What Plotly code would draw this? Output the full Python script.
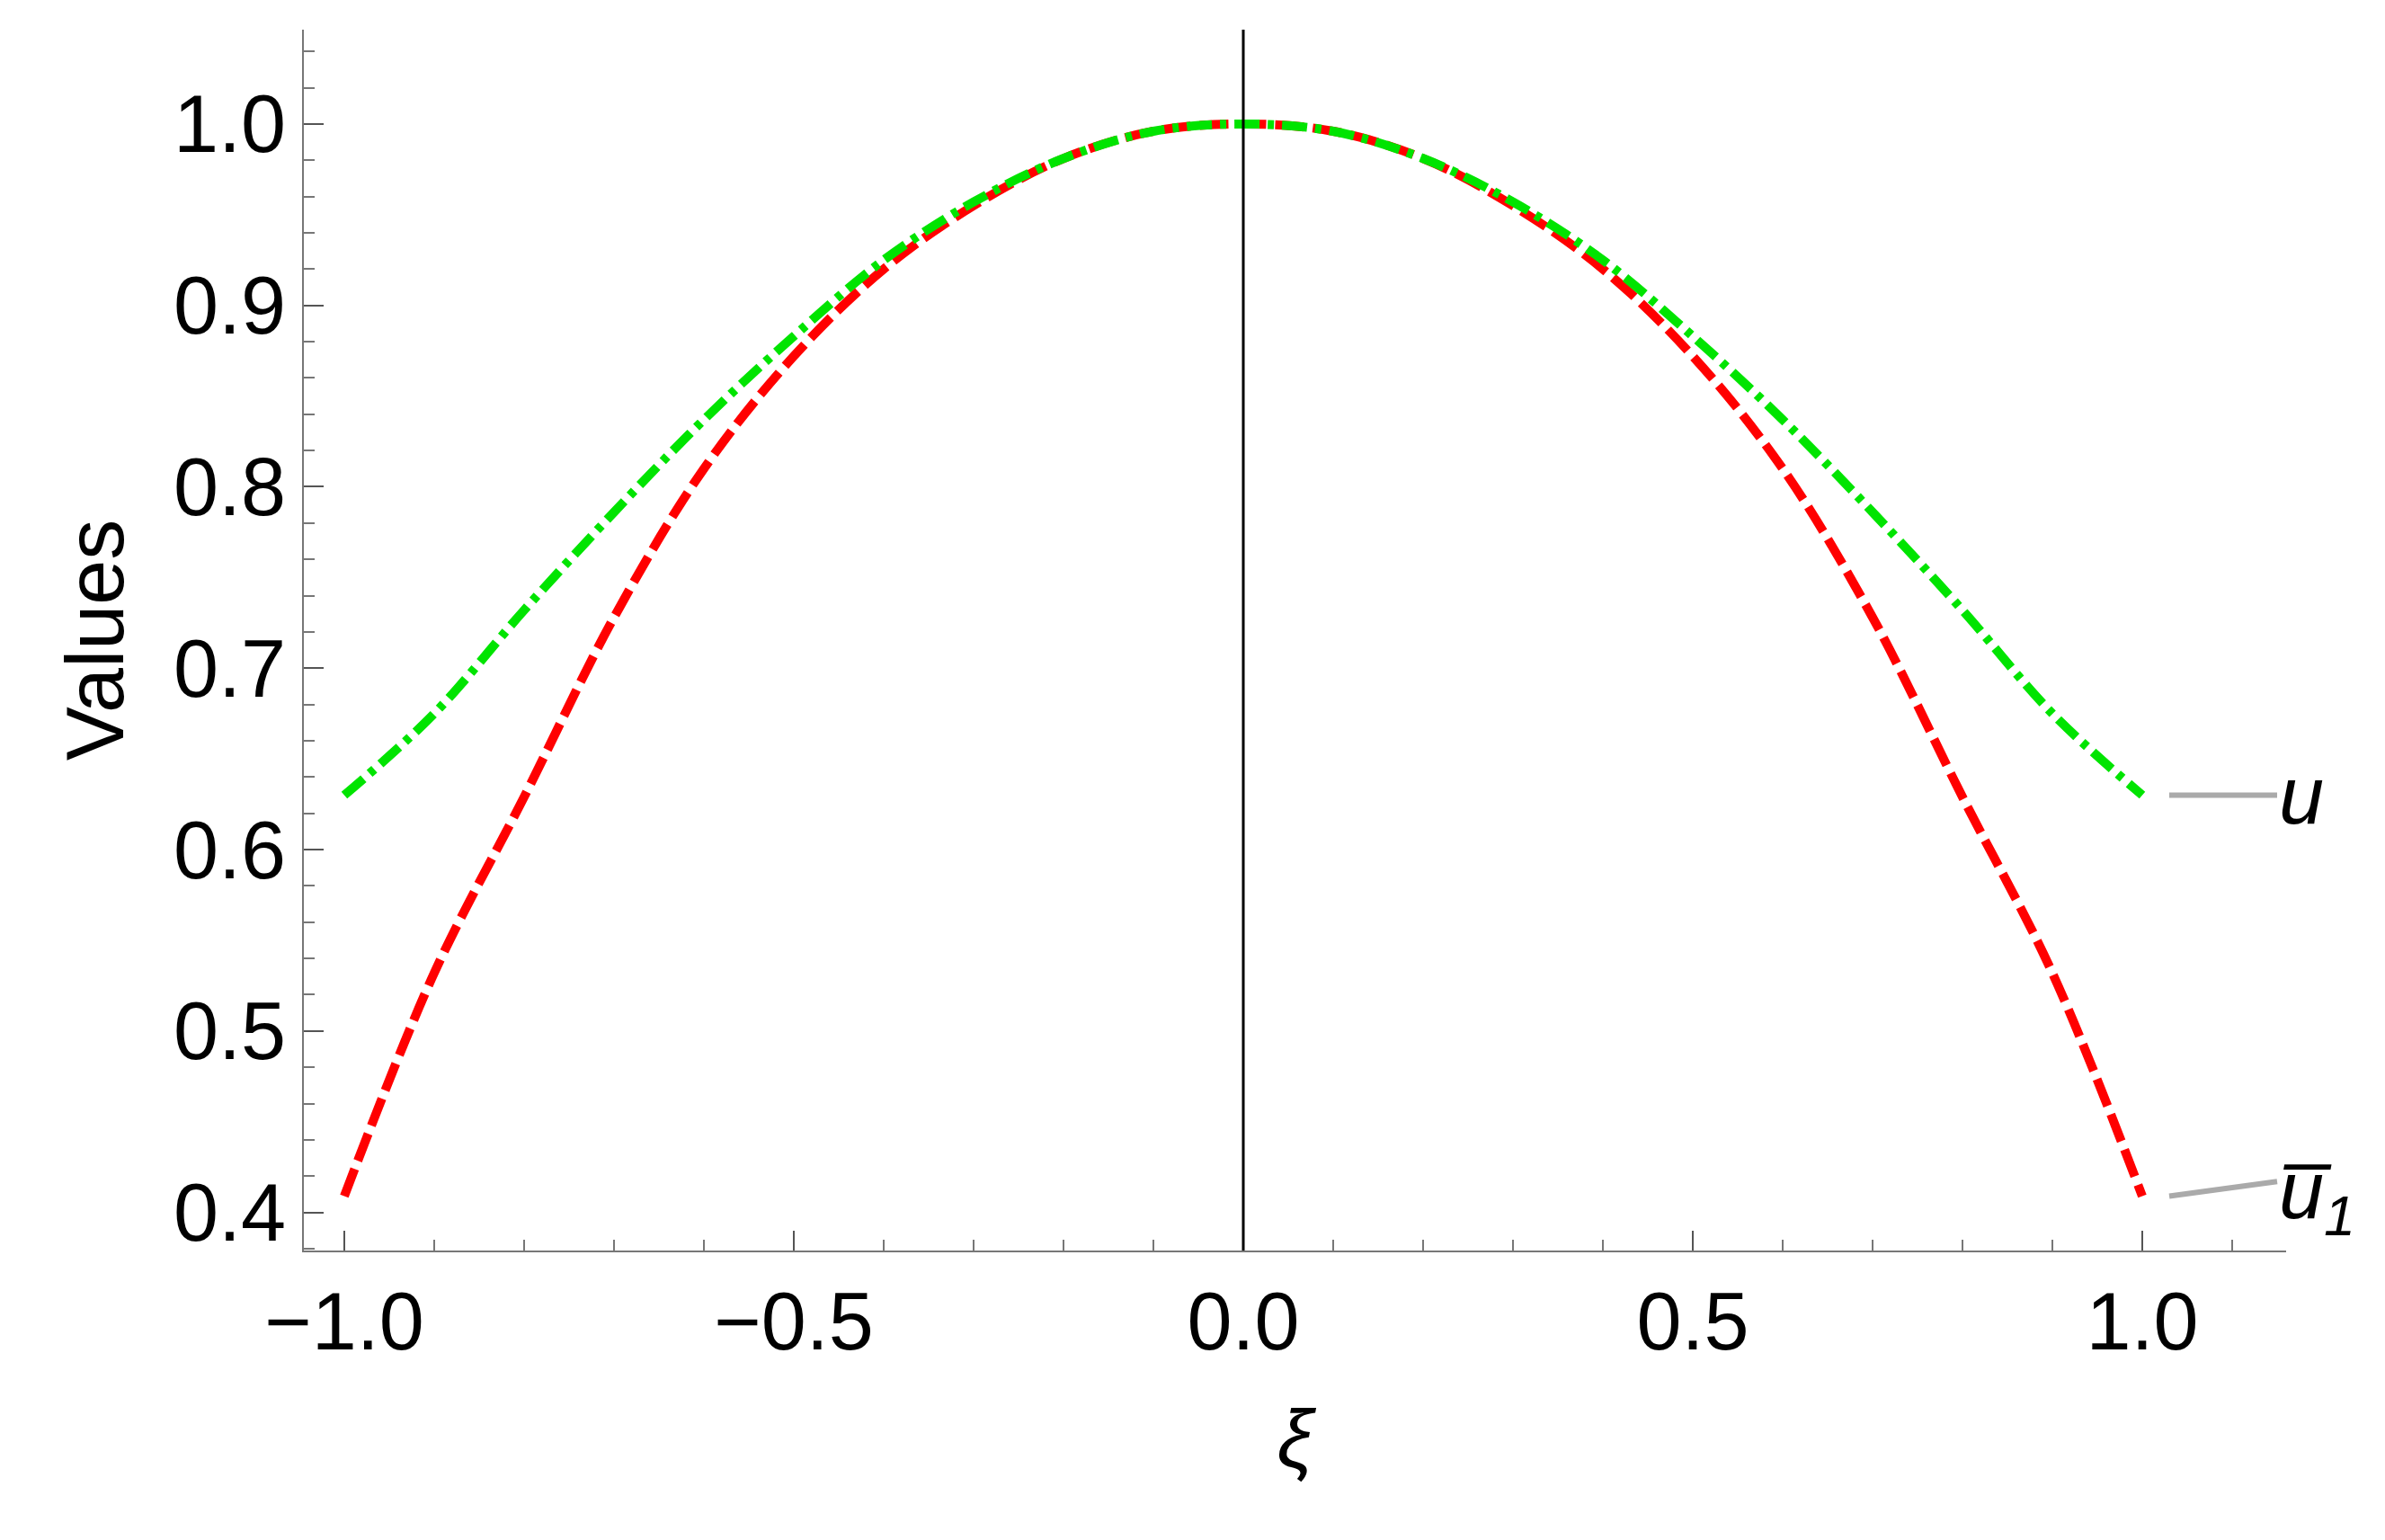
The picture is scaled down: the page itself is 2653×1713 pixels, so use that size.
import plotly.graph_objects as go

# xi grid and read-off values
xi = [-1.0, -0.9, -0.8, -0.7, -0.6, -0.5, -0.4, -0.3, -0.2, -0.1, 0.0,
      0.1, 0.2, 0.3, 0.4, 0.5, 0.6, 0.7, 0.8, 0.9, 1.0]
u_half = [1.0, 0.996, 0.981, 0.957, 0.925, 0.883, 0.837, 0.786, 0.732, 0.675, 0.63]
u1_half = [1.0, 0.996, 0.981, 0.955, 0.92, 0.872, 0.81, 0.728, 0.629, 0.532, 0.409]
u_vals = u_half[::-1] + u_half[1:]
u1_vals = u1_half[::-1] + u1_half[1:]

labels = ["u", "u\u0305<sub>1</sub>"]

font_ticks = dict(family="Liberation Sans, Arial", size=90, color="black")

fig = go.Figure()

fig.add_trace(go.Scatter(
  x=xi, y=u1_vals, mode='lines', line_shape='spline',
  line=dict(color='#ff0000', width=10, dash='32px,10px'),
  showlegend=False
))
fig.add_trace(go.Scatter(
  x=xi, y=u_vals, mode='lines', line_shape='spline',
  line=dict(color='#00e400', width=10, dash='28px,9px,7px,9px'),
  showlegend=False
))

# gray leader lines to the curve labels
for vals, lbl in [(u_vals, labels[0]), (u1_vals, labels[1])]:
  y_end = vals[-1]
  fig.add_trace(go.Scatter(
    x=[1.03, 1.15], y=[y_end, y_end + (0.0 if lbl == 'u' else 0.008)],
    mode='lines', line=dict(color='#aaaaaa', width=6), line_shape='spline',
    showlegend=False, cliponaxis=False
  ))
  fig.add_annotation(
    x=1.15, y=y_end, xref='x', yref='y', text='<i>' + lbl + '</i>',
    showarrow=False, xanchor='left', yanchor='middle',
    font=dict(family="Liberation Sans, Arial", size=90, color='black')
  )

fig.add_vline(x=0, line=dict(color='black', width=3))

fig.update_layout(
  width=2653, height=1713,
  paper_bgcolor='white', plot_bgcolor='white',
  margin=dict(l=330, r=118, t=25, b=330),
  xaxis=dict(
    range=[-1.045, 1.16], tickvals=[-1.0, -0.5, 0.0, 0.5, 1.0],
    ticktext=['\u22121.0', '\u22120.5', '0.0', '0.5', '1.0'],
    ticks='inside', ticklen=22, tickwidth=2, tickcolor='#555',
    minor=dict(dtick=0.1, ticks='inside', ticklen=12, tickcolor='#777'),
    showline=True, linecolor='#777', linewidth=2, showgrid=False, zeroline=False,
    tickfont=font_ticks,
    title=dict(text='<i>\u03be</i>', font=font_ticks, standoff=50)
  ),
  yaxis=dict(
    range=[0.379, 1.052], dtick=0.1, tickformat='.1f',
    ticks='inside', ticklen=22, tickwidth=2, tickcolor='#555',
    minor=dict(dtick=0.02, ticks='inside', ticklen=12, tickcolor='#777'),
    showline=True, linecolor='#777', linewidth=2, showgrid=False, zeroline=False,
    tickfont=font_ticks,
    title=dict(text='Values', font=font_ticks, standoff=25)
  )
)

fig.write_html("out.html")
